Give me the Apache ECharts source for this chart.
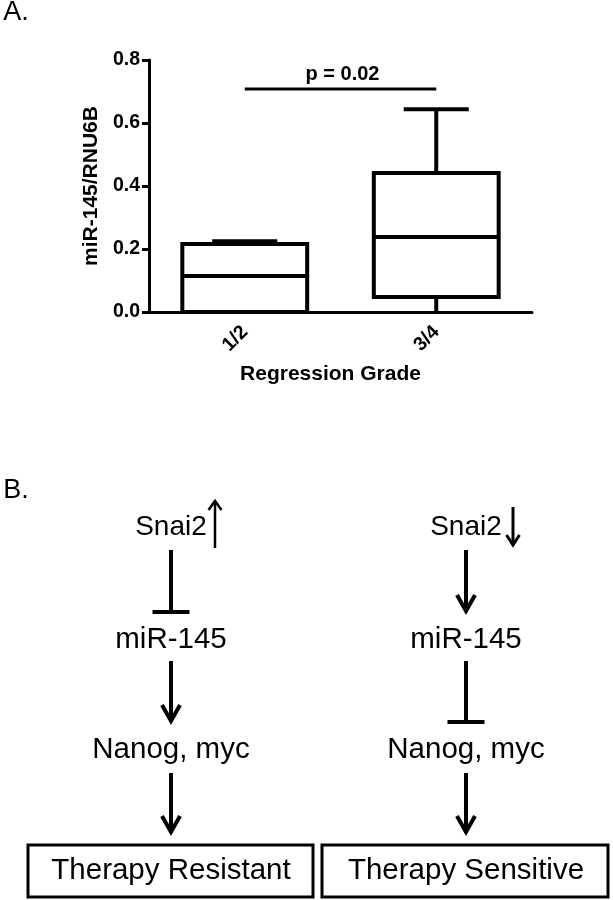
<!DOCTYPE html>
<html><head><meta charset="utf-8">
<script src="https://cdn.jsdelivr.net/npm/echarts@6/dist/echarts.min.js"></script>
<style>html,body{margin:0;padding:0;background:#fff}#c{width:613px;height:900px}</style>
</head><body><div id="c"></div>
<script>
// ---------- data ----------
const categories = ['1/2', '3/4'];
// [min, Q1, median, Q3, max]
const grade12 = [0.0, 0.0, 0.114, 0.216, 0.225];
const grade34 = [0.0, 0.048, 0.238, 0.441, 0.644];
const yTickLabels = ['0.0', '0.2', '0.4', '0.6', '0.8'];
const pText = 'p = 0.02';
const pBracketValue = 0.708;
const yName = 'miR-145/RNU6B';
const xName = 'Regression Grade';
const panelLabels = ['A.', 'B.'];
const leftNodes = ['Snai2', 'miR-145', 'Nanog, myc', 'Therapy Resistant'];
const rightNodes = ['Snai2', 'miR-145', 'Nanog, myc', 'Therapy Sensitive'];
const leftLinks = ['inhibit', 'activate', 'activate'];
const rightLinks = ['activate', 'inhibit', 'activate'];
const snaiChange = ['up', 'down'];

// ---------- chart ----------
const FF = '"Liberation Sans", Arial, Helvetica, sans-serif';
const chart = echarts.init(document.getElementById('c'), null, {renderer: 'canvas'});

function renderBox(params, api) {
  const x = api.value(0);
  const v = [1, 2, 3, 4, 5].map(i => api.value(i));
  const band = api.size([1, 0])[0];
  const half = band * 0.326, capHalf = band * 0.17;
  const p = v.map(val => api.coord([x, val]));
  const cx = p[2][0];
  const st = {stroke: '#000', lineWidth: 4, fill: null};
  return {type: 'group', children: [
    {type: 'line', shape: {x1: cx, y1: p[3][1], x2: cx, y2: p[4][1]}, style: st},
    {type: 'line', shape: {x1: cx - capHalf, y1: p[4][1], x2: cx + capHalf, y2: p[4][1]}, style: st},
    {type: 'line', shape: {x1: cx, y1: p[1][1], x2: cx, y2: p[0][1]}, style: st},
    {type: 'rect', shape: {x: cx - half, y: p[3][1], width: 2 * half, height: p[1][1] - p[3][1]},
      style: {stroke: '#000', lineWidth: 4, fill: '#fff'}},
    {type: 'line', shape: {x1: cx - half, y1: p[2][1], x2: cx + half, y2: p[2][1]}, style: st}
  ]};
}

function renderBracket(params, api) {
  const a = api.coord([api.value(0), api.value(2)]);
  const b = api.coord([api.value(1), api.value(2)]);
  return {type: 'group', children: [
    {type: 'line', shape: {x1: a[0], y1: a[1], x2: b[0], y2: b[1]}, style: {stroke: '#000', lineWidth: 3}},
    {type: 'text', x: (a[0] + b[0]) / 2 + 2, y: a[1] - 14,
      style: {text: pText, font: 'bold 20px ' + FF, fill: '#000', align: 'center', verticalAlign: 'middle',
        textAlign: 'center', textVerticalAlign: 'middle'}}
  ]};
}

// ---------- diagram (panel B) ----------
const colX = [171, 466];
const nodeY = [527.5, 640, 750, 871];
const linkSpans = [[550, 612], [661, 722], [773, 833]];
const boxSpans = [[28, 313], [322, 608]];
const boxTop = 845, boxBottom = 897;
const graphics = [];
function txt(s, x, y, font) {
  graphics.push({type: 'text', x: x, y: y,
    style: {text: s, font: font, fill: '#000', align: 'center', verticalAlign: 'middle',
      textAlign: 'center', textVerticalAlign: 'middle'}});
}
function seg(x1, y1, x2, y2, w) {
  graphics.push({type: 'line', shape: {x1, y1, x2, y2}, style: {stroke: '#000', lineWidth: w, lineCap: 'butt'}});
}
function head(x, y, hw, hl, w, dir) {
  graphics.push({type: 'polyline', shape: {points: [[x - hw, y - dir * hl], [x, y], [x + hw, y - dir * hl]]},
    style: {stroke: '#000', lineWidth: w, fill: null, lineJoin: 'miter'}});
}
[leftNodes, rightNodes].forEach((nodes, c) => {
  const cx = colX[c];
  const links = c === 0 ? leftLinks : rightLinks;
  nodes.forEach((n, i) => {
    const font = (i === 0 ? '28px ' : '29.5px ') + FF;
    txt(n, cx, nodeY[i], font);
  });
  links.forEach((l, i) => {
    const [y1, y2] = linkSpans[i];
    seg(cx, y1, cx, y2, 4);
    if (l === 'inhibit') seg(cx - 18.5, y2, cx + 18.5, y2, 4);
    else head(cx, y2 - 1, 9, 16, 4, 1);
  });
  const [bx1, bx2] = boxSpans[c];
  graphics.push({type: 'rect', shape: {x: bx1, y: boxTop, width: bx2 - bx1, height: boxBottom - boxTop},
    style: {stroke: '#000', lineWidth: 3, fill: null}});
  // small change arrow next to Snai2
  if (snaiChange[c] === 'up') {
    const ax = cx + 44;
    seg(ax, 501, ax, 548, 2.5);
    head(ax, 501, 6.5, 9, 2.5, -1);
  } else {
    const ax = cx + 47;
    seg(ax, 507, ax, 545, 3);
    head(ax, 545, 6.5, 10, 3, 1);
  }
});
txt(panelLabels[0], 16, 13, '27px ' + FF);
txt(panelLabels[1], 16, 491, '27px ' + FF);

const option = {
  backgroundColor: '#fff',
  animation: false,
  grid: {left: 149, right: 81, top: 60, bottom: 588, containLabel: false},
  xAxis: {
    type: 'category', data: categories, boundaryGap: true,
    axisLine: {lineStyle: {color: '#000', width: 3}},
    axisTick: {alignWithLabel: true, length: 10, lineStyle: {color: '#000', width: 3}},
    axisLabel: {rotate: 45, margin: 17, color: '#000', fontWeight: 'bold', fontSize: 19.5, fontFamily: FF},
    name: xName, nameLocation: 'middle', nameGap: 52,
    nameTextStyle: {color: '#000', fontWeight: 'bold', fontSize: 21, fontFamily: FF, padding: [0, 20, 0, 0]}
  },
  yAxis: {
    type: 'value', min: 0, max: 0.8, interval: 0.2,
    splitLine: {show: false},
    axisLine: {show: true, lineStyle: {color: '#000', width: 3}},
    axisTick: {show: true, length: 7, lineStyle: {color: '#000', width: 3}},
    axisLabel: {margin: 9, color: '#000', fontWeight: 'bold', fontSize: 19.5, fontFamily: FF,
      formatter: (v) => yTickLabels[Math.round(v / 0.2)]},
    name: yName, nameLocation: 'middle', nameGap: 42, nameRotate: 90,
    nameTextStyle: {color: '#000', fontWeight: 'bold', fontSize: 21, fontFamily: FF}
  },
  series: [
    {type: 'custom', renderItem: renderBox, encode: {x: 0, y: [1, 2, 3, 4, 5]},
      data: [[0].concat(grade12), [1].concat(grade34)], z: 3},
    {type: 'custom', renderItem: renderBracket, encode: {x: [0, 1], y: 2},
      data: [[0, 1, pBracketValue]], z: 3}
  ],
  graphic: graphics
};
chart.setOption(option);
</script></body></html>
